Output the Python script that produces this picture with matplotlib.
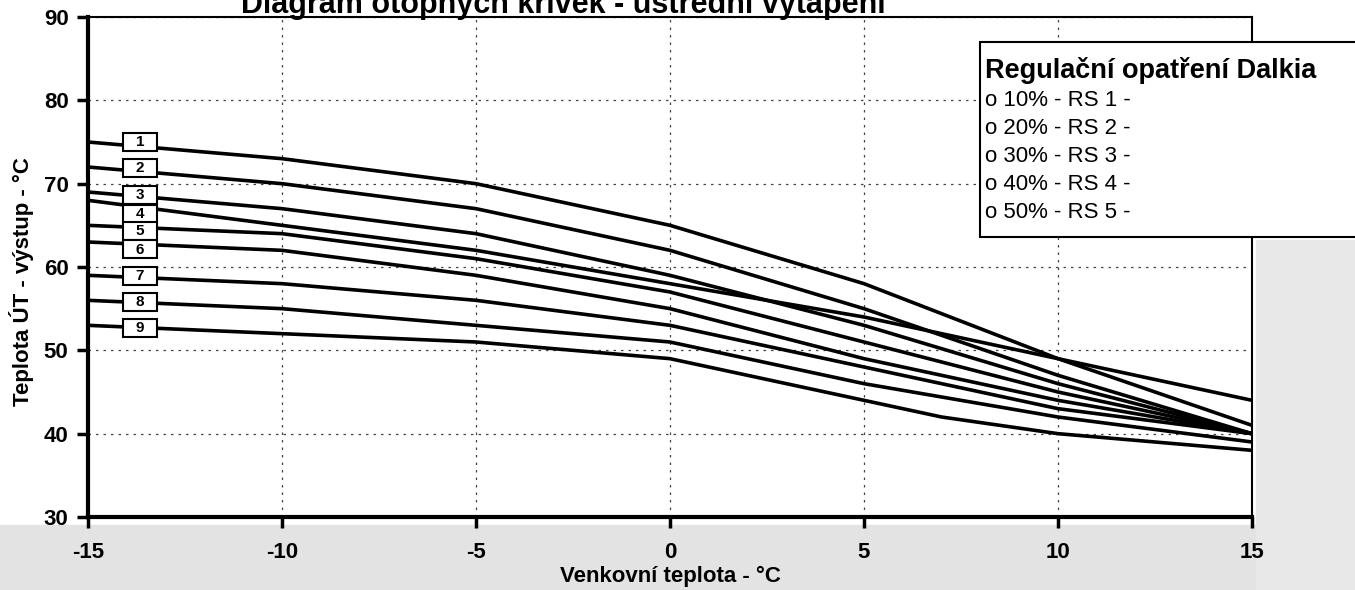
import matplotlib
matplotlib.use('Agg')
import matplotlib.pyplot as plt
from matplotlib.patches import Rectangle

plt.rcParams['font.family'] = ['Liberation Sans', 'DejaVu Sans']
plt.rcParams['axes.unicode_minus'] = False

# outdoor temperature points
temp_out = [-15, -10, -5, 0, 5, 10, 15]
temp_out_9 = [-15, -10, -5, 0, 5, 7, 10, 15]

# supply temperature curves
curve_1 = [75, 73, 70, 65, 58, 49, 41]
curve_2 = [72, 70, 67, 62, 55, 47, 40]
curve_3 = [69, 67, 64, 59, 53, 46, 40]
curve_4 = [68, 65, 62, 58, 54, 49, 44]
curve_5 = [65, 64, 61, 57, 51, 45, 40]
curve_6 = [63, 62, 59, 55, 49, 44, 40]
curve_7 = [59, 58, 56, 53, 48, 43, 40]
curve_8 = [56, 55, 53, 51, 46, 42, 39]
curve_9 = [53, 52, 51, 49, 44, 42, 40, 38]

curve_names = ['1', '2', '3', '4', '5', '6', '7', '8', '9']
label_y = [75, 71.9, 68.6, 66.4, 64.3, 62.1, 58.9, 55.8, 52.7]

legend_title = 'Regulační opatření Dalkia'
legend_items = ['o 10% - RS 1 -', 'o 20% - RS 2 -', 'o 30% - RS 3 -',
                'o 40% - RS 4 -', 'o 50% - RS 5 -']

W, H = 1355, 590
fig = plt.figure(figsize=(W / 100, H / 100), dpi=100)
fig.patch.set_facecolor('white')

# scanned grey margins
fig.patches.append(Rectangle((0, 0), 1, 65 / H, transform=fig.transFigure,
                             color='#e3e3e3', zorder=-10))
fig.patches.append(Rectangle((1256 / W, 0), 1, 350 / H, transform=fig.transFigure,
                             color='#e8e8e8', zorder=-10))

ax = fig.add_axes([88 / W, 73 / H, (1252 - 88) / W, 500 / H])

curves = [curve_1, curve_2, curve_3, curve_4, curve_5, curve_6, curve_7, curve_8]
for c in curves:
    ax.plot(temp_out, c, color='black', lw=2.6, solid_joinstyle='round')
ax.plot(temp_out_9, curve_9, color='black', lw=2.6, solid_joinstyle='round')

ax.set_xlim(-15, 15)
ax.set_ylim(30, 90)
ax.set_xticks([-15, -10, -5, 0, 5, 10, 15])
ax.set_yticks([30, 40, 50, 60, 70, 80, 90])

ax.grid(True, color='#444444', lw=0.9, linestyle=(0, (2, 4)))
ax.set_axisbelow(True)

for s in ['left', 'bottom']:
    ax.spines[s].set_linewidth(3)
for s in ['top', 'right']:
    ax.spines[s].set_linewidth(1.5)

ax.tick_params(axis='y', direction='out', length=8, width=2.5,
               labelsize=16, pad=6)
ax.tick_params(axis='x', direction='out', length=8, width=2.5,
               labelsize=16, pad=10)
for t in ax.get_xticklabels() + ax.get_yticklabels():
    t.set_fontweight('bold')

ax.set_xlabel('Venkovní teplota - °C', fontsize=16, fontweight='bold', labelpad=2)
ax.set_ylabel('Teplota ÚT - výstup - °C', fontsize=16, fontweight='bold')
ax.yaxis.set_label_coords(-0.046, 0.47)

# numbered curve labels
box_w = 0.88
box_h = 2.16
for name, y in zip(curve_names, label_y):
    ax.add_patch(Rectangle((-14.1, y - box_h / 2), box_w, box_h, fc='white',
                           ec='black', lw=1.5, zorder=5))
    ax.text(-14.1 + box_w / 2, y, name, ha='center', va='center', fontsize=11,
            fontweight='bold', zorder=6)

# legend box (runs past the right edge)
fig.patches.append(Rectangle((980 / W, 1 - 237 / H), 400 / W, 195 / H,
                             transform=fig.transFigure, fc='white', ec='black',
                             lw=1.5, zorder=10, clip_on=False))
fig.text(985 / W, 1 - 70 / H, legend_title, fontsize=19.5, fontweight='bold',
         ha='left', va='center', zorder=11)
for i, item in enumerate(legend_items):
    fig.text(985 / W, 1 - (100 + 28 * i) / H, item, fontsize=16,
             ha='left', va='center', zorder=11)

# title, cut off by the top edge of the scan
fig.text(563 / W, 1 - 13 / H, 'Diagram otopných křivek - ústřední vytápění',
         fontsize=22, fontweight='bold', ha='center', va='baseline')

fig.savefig('out.png', dpi=100)
